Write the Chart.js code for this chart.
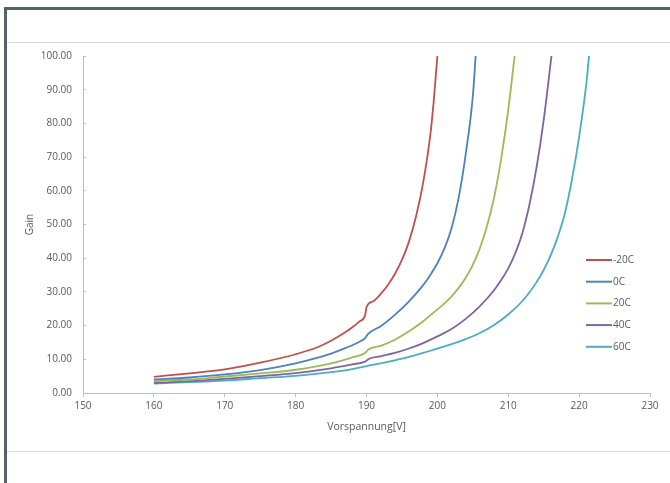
<!DOCTYPE html>
<html>
<head>
<meta charset="utf-8">
<script src="https://cdn.jsdelivr.net/npm/chart.js@4"></script>
<style>
  html, body { margin: 0; padding: 0; background: #fff; }
  #wrap { position: relative; width: 670px; height: 483px; overflow: hidden; }
  #frame { position: absolute; left: 4px; top: 7px; width: 700px; height: 500px;
           border-left: 3px solid #53636c; border-top: 3px solid #53636c; }
  .hline { position: absolute; left: 7px; width: 670px; height: 1px; background: #d9d9d9; }
  canvas { position: absolute; left: 0; top: 0; }
</style>
</head>
<body>
<div id="wrap">
  <div id="frame"></div>
  <div class="hline" style="top:42px"></div>
  <div class="hline" style="top:451px"></div>
  <canvas id="chart" width="670" height="483"></canvas>
</div>
<script>
// Vorspannung [V] and Gain per temperature
const voltM20 = [160, 165, 170, 175, 180, 183, 185, 187, 188, 189, 189.8, 190, 191, 192, 193, 194, 195, 196, 197, 198, 199, 199.5, 200];
const gainM20 = [4.8, 5.8, 7.0, 9.0, 11.5, 13.5, 15.5, 18, 19.5, 21.2, 23, 25.5, 27.3, 29.4, 32, 35.3, 39.5, 45, 52.5, 62.5, 76.5, 87, 100];

const volt0 = [160, 165, 170, 175, 180, 183, 185, 187, 189, 189.8, 190.2, 192, 194, 196, 198, 199, 200, 201, 202, 203, 204, 205, 205.4];
const gain0 = [4.0, 4.6, 5.5, 6.8, 8.8, 10.4, 11.7, 13.3, 15.2, 16.3, 17.5, 19.8, 23.2, 27.2, 32, 35, 38.5, 42.9, 48.9, 57.9, 70.9, 88, 100];

const volt20 = [160, 165, 170, 175, 180, 185, 188, 189.8, 190.3, 192, 194, 196, 198, 200, 201, 202, 203, 204, 205, 206, 207, 208, 209, 210, 210.9];
const gain20 = [3.5, 4.0, 4.9, 5.8, 6.9, 8.8, 10.6, 11.9, 13.0, 14.0, 15.8, 18.3, 21.3, 24.8, 26.6, 28.7, 31.2, 34.2, 38, 43, 49.5, 58, 69.5, 84, 100];

const volt40 = [160, 165, 170, 175, 180, 185, 188, 189.8, 190.3, 192, 194, 196, 198, 200, 202, 204, 206, 208, 209, 210, 211, 212, 213, 214, 215, 216.1];
const gain40 = [3.0, 3.5, 4.2, 5.0, 5.9, 7.3, 8.5, 9.3, 10.1, 10.9, 11.9, 13.2, 14.8, 16.8, 19.0, 22.0, 25.8, 30.5, 33.5, 37, 41.5, 47.5, 56, 67, 81, 100];

const volt60 = [160, 165, 170, 175, 180, 185, 188, 190, 192, 194, 196, 198, 200, 202, 204, 206, 208, 210, 212, 213, 214, 215, 216, 217, 218, 219, 220, 221, 221.4];
const gain60 = [2.8, 3.2, 3.7, 4.4, 5.1, 6.2, 7.1, 8.0, 8.8, 9.7, 10.7, 11.9, 13.2, 14.5, 16.0, 17.8, 20.2, 23.3, 27.3, 29.9, 32.9, 36.5, 40.9, 46.4, 53.4, 63.5, 76, 91.5, 100];

const seriesNames = ["-20C", "0C", "20C", "40C", "60C"];
const seriesColors = ["#c0504d", "#4f81bd", "#9bbb59", "#8064a2", "#4bacc6"];
const seriesVolts = [voltM20, volt0, volt20, volt40, volt60];
const seriesGains = [gainM20, gain0, gain20, gain40, gain60];

const xTitle = "Vorspannung[V]";
const yTitle = "Gain";

const textGrey = "#595959";
const axisGrey = "#bfbfbf";
const font = "Open Sans";

const datasets = seriesNames.map((name, i) => ({
    label: name,
    data: seriesVolts[i].map((v, j) => ({ x: v, y: seriesGains[i][j] })),
    borderColor: seriesColors[i],
    backgroundColor: seriesColors[i],
    borderWidth: 1.8,
    pointRadius: 0,
    showLine: true,
    cubicInterpolationMode: "monotone"
}));

// legend drawn inside the plot, like the spreadsheet original
const legendInPlot = {
    id: "legendInPlot",
    afterDraw(chart) {
        const ctx = chart.ctx;
        ctx.save();
        ctx.font = "10px '" + font + "'";
        ctx.textBaseline = "middle";
        ctx.fillStyle = textGrey;
        seriesNames.forEach((name, i) => {
            const y = 260 + i * 21.7;
            ctx.strokeStyle = seriesColors[i];
            ctx.lineWidth = 2;
            ctx.beginPath();
            ctx.moveTo(586, y);
            ctx.lineTo(612, y);
            ctx.stroke();
            ctx.fillText(name, 613, y);
        });
        ctx.restore();
    }
};

new Chart(document.getElementById("chart"), {
    type: "scatter",
    data: { datasets: datasets },
    plugins: [legendInPlot],
    options: {
        responsive: false,
        animation: false,
        layout: { padding: { left: 0, top: 56, right: 20, bottom: 0 } },
        plugins: {
            legend: { display: false },
            tooltip: { enabled: false }
        },
        scales: {
            x: {
                type: "linear",
                min: 150,
                max: 230,
                afterFit(scale) { scale.height = 90; },
                ticks: {
                    stepSize: 10,
                    color: textGrey,
                    padding: 3,
                    font: { family: font, size: 10 }
                },
                grid: { drawOnChartArea: false, color: axisGrey, tickLength: 4 },
                border: { color: axisGrey },
                title: {
                    display: true,
                    text: xTitle,
                    color: textGrey,
                    font: { family: font, size: 10.5 },
                    padding: { top: 0, bottom: 50 }
                }
            },
            y: {
                min: 0,
                max: 100,
                afterFit(scale) { scale.width = 83; },
                ticks: {
                    stepSize: 10,
                    color: textGrey,
                    padding: 14,
                    font: { family: font, size: 10 },
                    callback: v => v.toFixed(2)
                },
                // negative length puts the small ticks inside the plot
                grid: { drawOnChartArea: false, color: axisGrey, tickLength: -3 },
                border: { color: axisGrey },
                title: {
                    display: true,
                    text: yTitle,
                    color: textGrey,
                    font: { family: font, size: 10 },
                    padding: { top: 24, bottom: 0 }
                }
            }
        }
    }
});
</script>
</body>
</html>
